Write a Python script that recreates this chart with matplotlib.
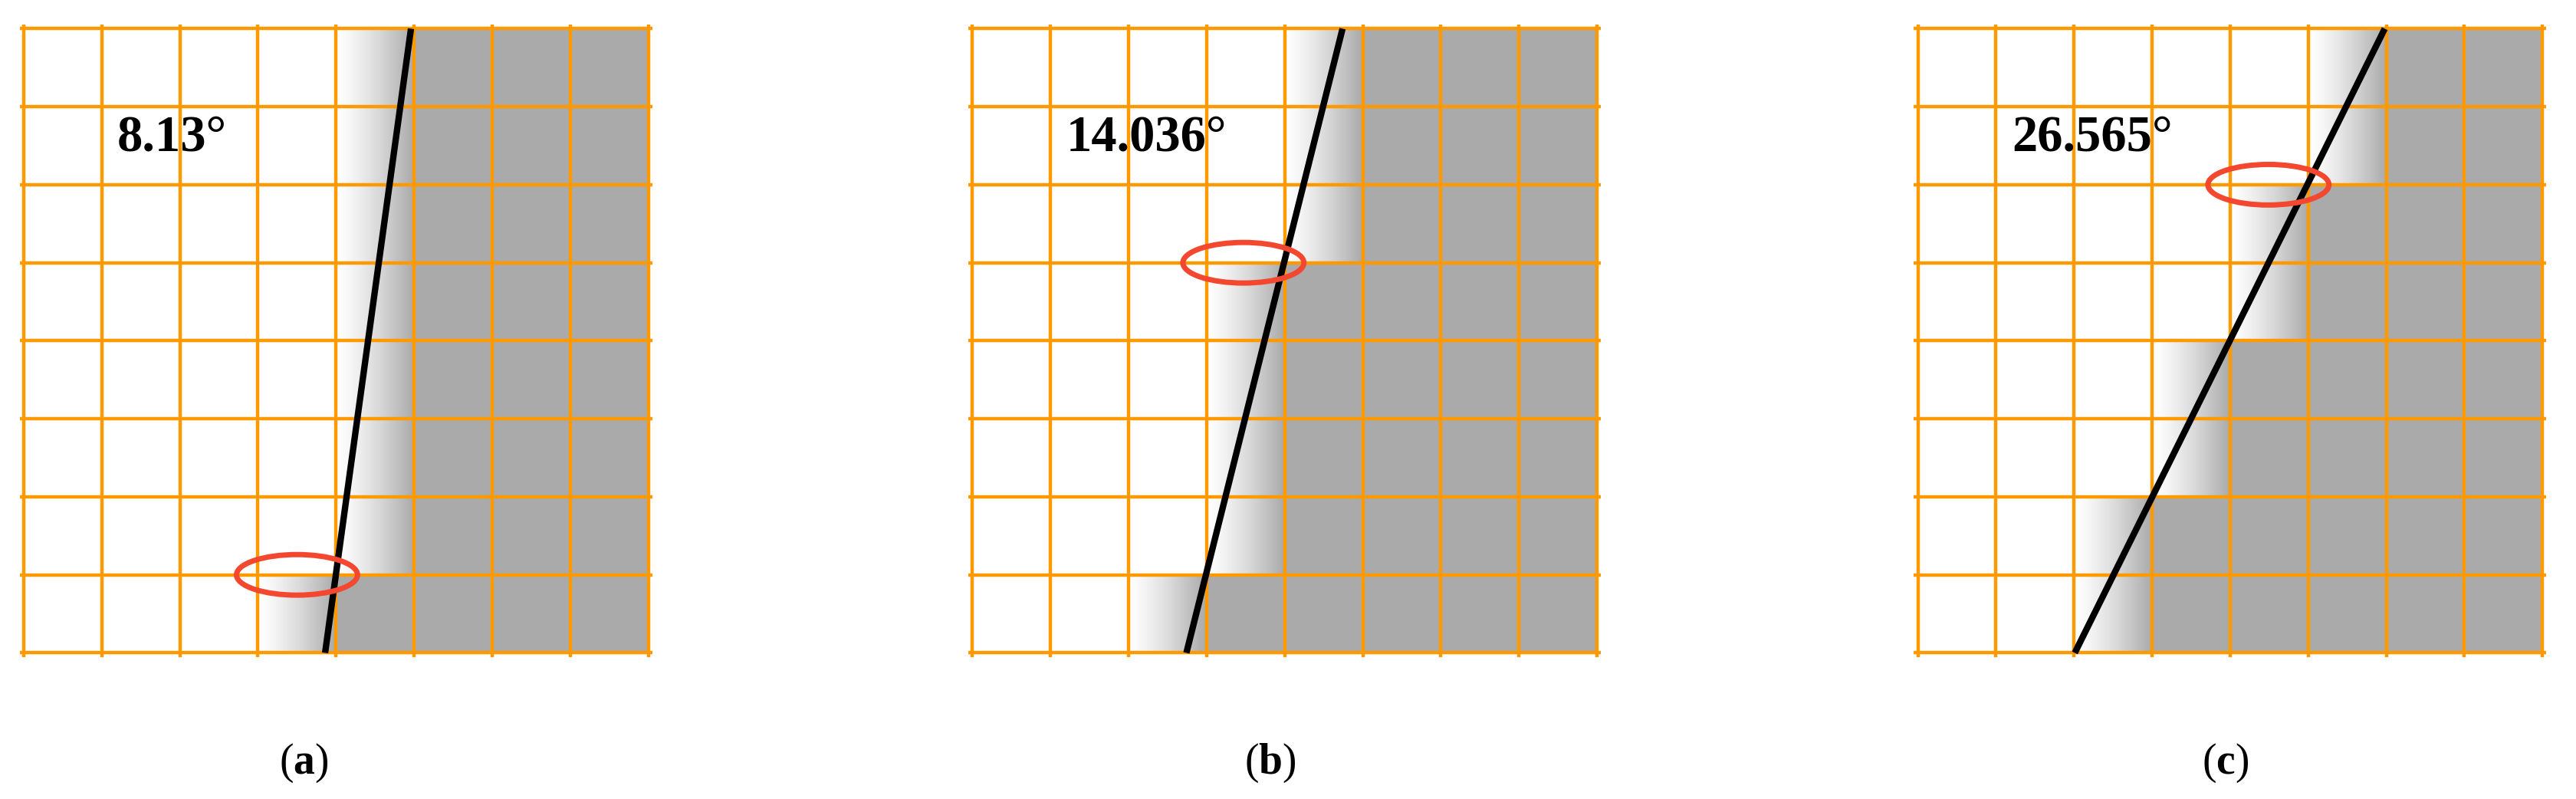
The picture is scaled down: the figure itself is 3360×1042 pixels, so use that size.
import numpy as np
import matplotlib
matplotlib.use("Agg")
import matplotlib.pyplot as plt
from matplotlib.patches import Ellipse

plt.rcParams["mathtext.fontset"] = "custom"
plt.rcParams["mathtext.rm"] = "Liberation Serif"
plt.rcParams["mathtext.bf"] = "Liberation Serif:bold"

angles = ["8.13°", "14.036°", "26.565°"]
captions = ["a", "b", "c"]
# gradient column for each row (row 0 = top)
grad_cols = [
    [4, 4, 4, 4, 4, 4, 4, 3],
    [4, 4, 4, 3, 3, 3, 3, 2],
    [5, 5, 4, 4, 3, 3, 2, 2],
]
line_top_x = [4.96, 4.74, 5.98]
line_bot_x = [3.86, 2.74, 2.01]
ellipse_x = [3.5, 3.47, 4.49]
ellipse_y = [7.0, 3.0, 2.0]

N = 8
fig = plt.figure(figsize=(33.6, 10.42), dpi=100)
lefts = [0.0077, 0.376, 0.743]
cap_x = [0.118, 0.493, 0.864]
GRAY = 0.667
res = 100
for k in range(3):
    ax = fig.add_axes([lefts[k], 0.178, 0.2455, 0.791])
    img = np.ones((N * res, N * res))
    t = np.linspace(0, 1, res)
    for r, c in enumerate(grad_cols[k]):
        rows = slice(r * res, (r + 1) * res)
        img[rows, (c + 1) * res:] = GRAY
        img[rows, c * res:(c + 1) * res] = 1 - (1 - GRAY) * t ** 1.3
    ax.imshow(np.dstack([img] * 3), extent=(0, N, N, 0), aspect="auto",
              interpolation="nearest", zorder=0)
    for i in range(N + 1):
        ax.axhline(i, color="#FF9900", lw=3.2, zorder=1)
        ax.axvline(i, color="#FF9900", lw=3.2, zorder=1)
    ax.plot([line_top_x[k], line_bot_x[k]], [0, N], color="black", lw=6,
            zorder=3, solid_capstyle="butt")
    ax.add_patch(Ellipse((ellipse_x[k], ellipse_y[k]), 1.55, 0.52, fill=False,
                         ec="#F4472F", lw=5, zorder=4))
    ax.text(1.2, 1.4, angles[k], fontsize=48, fontweight="bold",
            family="Liberation Serif", ha="left", va="center", zorder=5)
    ax.set_xlim(-0.05, N + 0.05)
    ax.set_ylim(N + 0.05, -0.05)
    ax.axis("off")
    fig.text(cap_x[k], 0.045, "($\\mathbf{%s}$)" % captions[k], fontsize=40,
             family="Liberation Serif", ha="center", va="center")
fig.savefig("out.png", dpi=100, facecolor="white")
